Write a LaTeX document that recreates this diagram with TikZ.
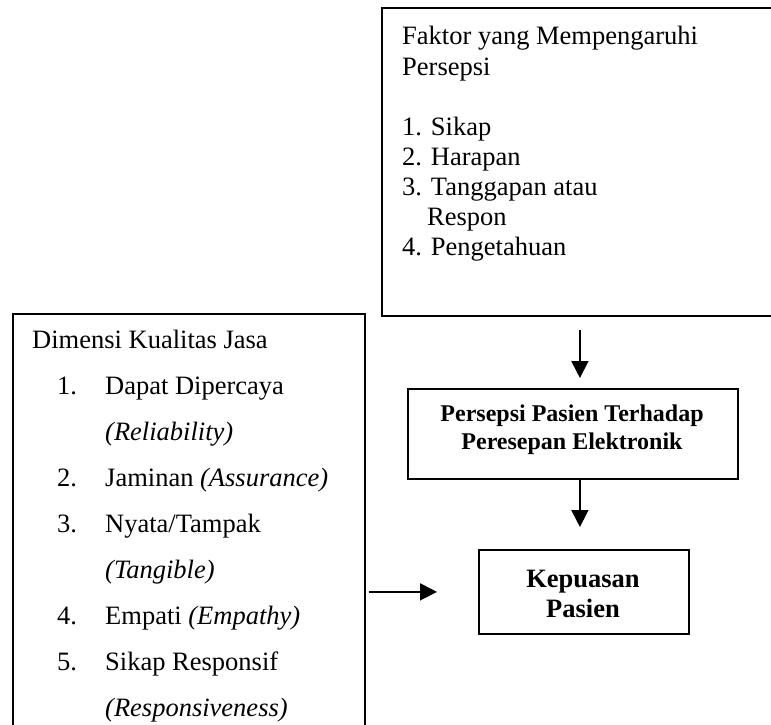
\documentclass[tikz,border=0pt]{standalone}
\usepackage{fontspec}
\setmainfont{Liberation Serif}
\usetikzlibrary{arrows.meta}
\begin{document}
\begin{tikzpicture}[x=1pt,y=-1pt]
\tikzset{
  box/.style={draw, line width=1.8pt, rectangle, inner sep=0pt, anchor=north west},
  txt/.style={anchor=base west, inner sep=0pt, font=\fontsize{26.5}{30}\selectfont},
  btxt/.style={anchor=base, inner sep=0pt, font=\bfseries\fontsize{24}{28}\selectfont},
  bbtxt/.style={anchor=base, inner sep=0pt, font=\bfseries\fontsize{26.5}{30}\selectfont},
  arr/.style={line width=1.8pt, -{Triangle[length=17pt,width=17pt]}}
}
\useasboundingbox (0,0) rectangle (771,725);
% boxes
\node[box, minimum width=396pt, minimum height=308pt] (fak) at (381,7) {};
\node[box, minimum width=352pt, minimum height=430pt] (dim) at (12,313) {};
\node[box, minimum width=330pt, minimum height=90pt] (per) at (407,388) {};
\node[box, minimum width=210pt, minimum height=84pt] (kep) at (478,549) {};
% top box text
\node[txt] (f1) at (402,45) {Faktor yang Mempengaruhi};
\node[txt] (f2) at (402,75) {Persepsi};
\node[txt] (f3) at (402,135) {1. Sikap};
\node[txt] (f4) at (402,165) {2. Harapan};
\node[txt] (f5) at (402,195) {3. Tanggapan atau};
\node[txt] (f6) at (427,225) {Respon};
\node[txt] (f7) at (402,255) {4. Pengetahuan};
% left box text
\node[txt] (d0) at (32,348) {Dimensi Kualitas Jasa};
\node[txt] (n1) at (57,394) {1.};
\node[txt] (d1) at (105,394) {Dapat Dipercaya};
\node[txt] (d1b) at (105,440) {\itshape (Reliability)};
\node[txt] (n2) at (57,486) {2.};
\node[txt] (d2) at (105,486) {Jaminan \textit{(Assurance)}};
\node[txt] (n3) at (57,532) {3.};
\node[txt] (d3) at (105,532) {Nyata/Tampak};
\node[txt] (d3b) at (105,578) {\itshape (Tangible)};
\node[txt] (n4) at (57,624) {4.};
\node[txt] (d4) at (105,624) {Empati \textit{(Empathy)}};
\node[txt] (n5) at (57,670) {5.};
\node[txt] (d5) at (105,670) {Sikap Responsif};
\node[txt] (d5b) at (105,716) {\itshape (Responsiveness)};
% middle box text
\node[btxt] (p1) at (572,421) {Persepsi Pasien Terhadap};
\node[btxt] (p2) at (572,449) {Peresepan Elektronik};
% kepuasan text
\node[bbtxt] (k1) at (583,587) {Kepuasan};
\node[bbtxt] (k2) at (583,617) {Pasien};
% arrows
\draw[arr, shorten <=13pt, shorten >=10pt] (fak.south) -- (fak.south |- per.north);
\draw[arr, shorten >=22pt] (per.south -| fak.south) -- (kep.north -| fak.south);
\draw[arr, shorten <=3pt, shorten >=41pt] (dim.east |- kep.west) -- (kep.west);
\end{tikzpicture}
\end{document}
